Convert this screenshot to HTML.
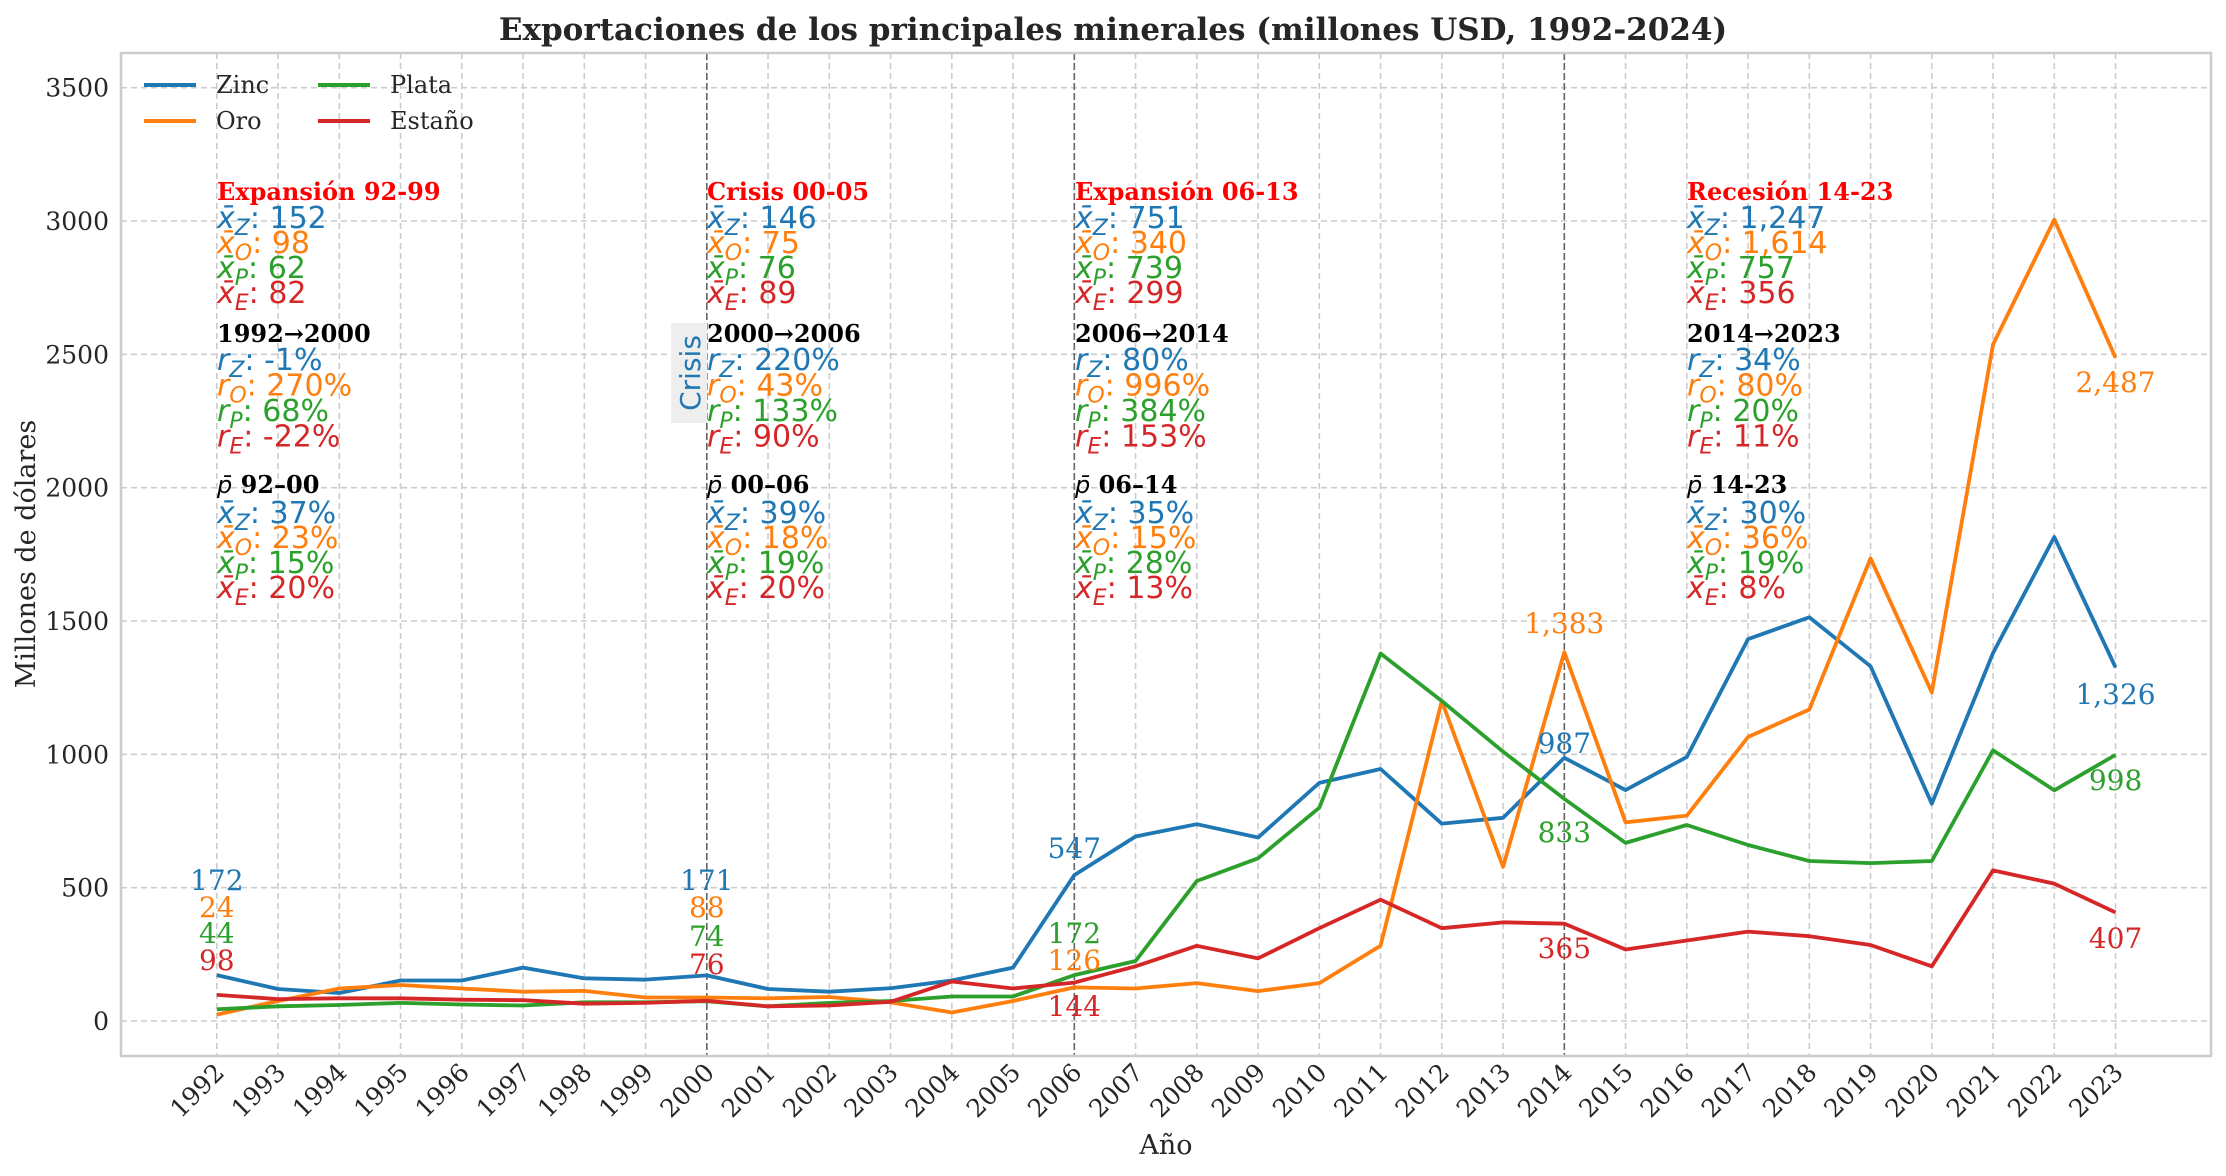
<!DOCTYPE html>
<html><head><meta charset="utf-8"><style>
html,body{margin:0;padding:0;background:#fff;}
svg{display:block;font-family:"DejaVu Serif","Liberation Serif",serif;}
</style></head><body>
<svg id="chart" width="2226" height="1176" viewBox="0 0 2226 1176" xmlns="http://www.w3.org/2000/svg">
<rect width="2226" height="1176" fill="#fff"/>
<text x="1113" y="40" text-anchor="middle" font-size="31" font-weight="bold" fill="#262626">Exportaciones de los principales minerales (millones USD, 1992-2024)</text>
<g id="grid"></g><g id="vlines"></g><g id="anno"></g><g id="series"></g><g id="labels"></g><g id="axes"></g><g id="legend"></g>
</svg>
<script>
const years=[1992,1993,1994,1995,1996,1997,1998,1999,2000,2001,2002,2003,2004,2005,2006,2007,2008,2009,2010,2011,2012,2013,2014,2015,2016,2017,2018,2019,2020,2021,2022,2023];
const zinc=[172,120,105,152,152,200,160,155,171,120,110,123,152,200,547,692,738,688,893,945,740,762,987,866,990,1432,1514,1330,815,1380,1815,1326];
const oro=[24,75,122,135,122,110,113,88,88,85,90,70,32,75,126,122,142,112,142,282,1200,578,1383,745,770,1065,1168,1735,1232,2537,3005,2487];
const plata=[44,55,60,68,62,58,70,70,74,55,68,75,92,92,172,225,525,610,800,1378,1200,1010,833,668,735,660,600,592,600,1015,865,998];
const estano=[98,82,85,85,80,78,65,68,76,55,58,72,148,122,144,205,282,235,348,455,348,370,365,268,302,335,318,285,205,565,515,407];
const yTicks=[0,500,1000,1500,2000,2500,3000,3500];
const markYears=[2000,2006,2014];
const labelYears=[1992,2000,2006,2014,2023];

const NS="http://www.w3.org/2000/svg";
const L=121,R=2211,T=53,B=1056;
function X(yr){return 216.8+(yr-1992)*61.25;}
function Y(v){return 1021-v*0.26667;}
function mk(tag,attrs,parent){const e=document.createElementNS(NS,tag);for(const k in attrs)e.setAttribute(k,attrs[k]);parent.appendChild(e);return e;}
const g=id=>document.getElementById(id);

yTicks.forEach(v=>{
  const ln=mk('line',{x1:L,x2:R,y1:Y(v),y2:Y(v),stroke:'#cccccc','stroke-width':1.6,'stroke-dasharray':'6,4'},g('grid'));
  
  
  const t=mk('text',{x:L-12,y:Y(v)+9,'text-anchor':'end','font-size':25,fill:'#262626'},g('axes'));
  t.textContent=v;
  
  
});
years.forEach(yr=>{
  const ln=mk('line',{x1:X(yr),x2:X(yr),y1:T,y2:B,stroke:'#cccccc','stroke-width':1.6,'stroke-dasharray':'6,4'},g('grid'));
  
  
  const t=mk('text',{x:0,y:0,'text-anchor':'end','font-size':25,fill:'#262626',transform:`translate(${X(yr)+9},${B+18}) rotate(-45)`},g('axes'));
  t.textContent=yr;
  
  
});
markYears.forEach(yr=>{
  const ln=mk('line',{x1:X(yr),x2:X(yr),y1:T,y2:B,stroke:'#666','stroke-width':1.6,'stroke-dasharray':'7,3'},g('vlines'));
  
  
});
const fr=mk('rect',{x:L,y:T,width:R-L,height:B-T,fill:'none',stroke:'#cccccc','stroke-width':2.5},g('axes'));


const xl=mk('text',{x:1166,y:1154,'text-anchor':'middle','font-size':27,fill:'#262626'},g('axes'));xl.textContent='Año';


const yl=mk('text',{x:0,y:0,'text-anchor':'middle','font-size':27,fill:'#262626',transform:'translate(35,554) rotate(-90)'},g('axes'));yl.textContent='Millones de dólares';



const series=[['zinc',zinc,'#1f77b4','Zinc'],['oro',oro,'#ff7f0e','Oro'],['plata',plata,'#2ca02c','Plata'],['estano',estano,'#d62728','Estaño']];
series.forEach(([n,d,c])=>{
  const p=mk('polyline',{points:d.map((v,i)=>X(years[i])+','+Y(v)).join(' '),fill:'none',stroke:c,'stroke-width':3.8,'stroke-linejoin':'round'},g('series'));
  
  
});

function fmt(v){return v.toLocaleString('en-US');}
const labelPos={
 1992:[[880],[907],[933],[960]],
 2000:[[880],[907],[936],[964]],
 2006:[[848],[960],[933],[1006]],
 2014:[[743],[623],[832],[948]],
 2023:[[694],[382],[780],[938]]
};
labelYears.forEach(yr=>{
  const i=years.indexOf(yr);
  series.forEach(([n,d,c],k)=>{
    const t=mk('text',{x:X(yr),y:labelPos[yr][k][0]+10,'text-anchor':'middle','font-size':28,fill:c},g('labels'));
    t.textContent=fmt(d[i]);
    
    
  });
});

const cols=['#1f77b4','#ff7f0e','#2ca02c','#d62728'];
const subs=['Z','O','P','E'];
const blocks=[
 [217,'Expansión 92-99',['152','98','62','82'],'1992→2000',['-1%','270%','68%','-22%'],'92–00',['37%','23%','15%','20%']],
 [707,'Crisis 00-05',['146','75','76','89'],'2000→2006',['220%','43%','133%','90%'],'00–06',['39%','18%','19%','20%']],
 [1075,'Expansión 06-13',['751','340','739','299'],'2006→2014',['80%','996%','384%','153%'],'06–14',['35%','15%','28%','13%']],
 [1687,'Recesión 14-23',['1,247','1,614','757','356'],'2014→2023',['34%','80%','20%','11%'],'14-23',['30%','36%','19%','8%']]
];
const A=g('anno');
const cb=mk('rect',{x:671,y:323,width:36,height:100,fill:'#eeeeee'},A);


const ct=mk('text',{x:0,y:0,'text-anchor':'middle','font-family':'DejaVu Sans, sans-serif','font-size':28,fill:'#1f77b4',transform:'translate(700,373) rotate(-90)'},A);ct.textContent='Crisis';


function mathRow(x,y,sym,k,val,name){
  const t=mk('text',{x:x,y:y,'font-family':'DejaVu Sans, sans-serif','font-size':30,fill:cols[k]},A);
  
  
  const a=mk('tspan',{'font-style':'italic'},t);a.textContent=sym;
  const b=mk('tspan',{'font-style':'italic','font-size':22,dy:7},t);b.textContent=subs[k];
  const c=mk('tspan',{dy:-7},t);c.textContent=': '+val;
}
blocks.forEach(([x,title,means,rh,rates,ph,parts])=>{
  const t=mk('text',{x:x,y:200,'font-size':24,'font-weight':'bold',fill:'#ff0000'},A);t.textContent=title;
  
  
  means.forEach((v,k)=>mathRow(x,228+k*25,'x̄',k,v,'period-mean'));
  const h=mk('text',{x:x,y:342,'font-size':24,'font-weight':'bold',fill:'#000'},A);h.textContent=rh;
  
  
  rates.forEach((v,k)=>mathRow(x,370+k*25.5,'r',k,v,'growth-rate'));
  const p=mk('text',{x:x,y:493,'font-size':24,'font-weight':'bold',fill:'#000'},A);
  
  
  const p1=mk('tspan',{'font-style':'italic','font-weight':'normal','font-family':'DejaVu Sans, sans-serif'},p);p1.textContent='p̄';
  const p2=mk('tspan',{},p);p2.textContent=' '+ph;
  parts.forEach((v,k)=>mathRow(x,523+k*25,'x̄',k,v,'period-share'));
});

const Lg=g('legend');
const lp=[[144,85],[144,121],[318,85],[318,121]];
series.forEach(([n,d,c,lab],k)=>{
  const ln=mk('line',{x1:lp[k][0],x2:lp[k][0]+52,y1:lp[k][1],y2:lp[k][1],stroke:c,'stroke-width':4},Lg);
  
  
  const t=mk('text',{x:lp[k][0]+72,y:lp[k][1]+8,'font-size':24,fill:'#262626'},Lg);t.textContent=lab;
  
  
});
</script>
</body></html>
